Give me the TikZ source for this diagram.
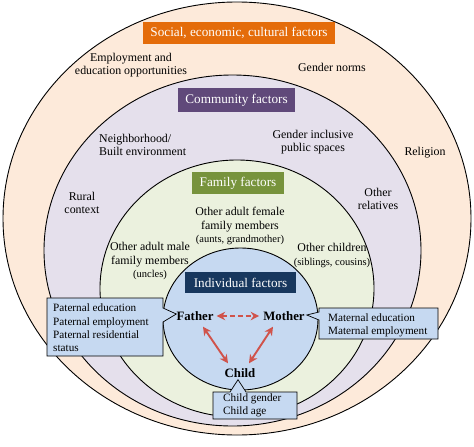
\documentclass[tikz,border=0pt]{standalone}
\usepackage{fontspec}
\setmainfont{Liberation Serif}
\usetikzlibrary{arrows.meta,calc}
\definecolor{peach}{HTML}{FDEADA}
\definecolor{lav}{HTML}{E5E0EC}
\definecolor{lgreen}{HTML}{EBF1DE}
\definecolor{lblue}{HTML}{C6D9F1}
\definecolor{orangebox}{HTML}{E46C0A}
\definecolor{purplebox}{HTML}{60497A}
\definecolor{greenbox}{HTML}{77933C}
\definecolor{navybox}{HTML}{17375E}
\definecolor{arrred}{HTML}{D0534B}
\begin{document}
\begin{tikzpicture}[x=1pt,y=-1pt,
  ring/.style={draw=black,line width=0.9pt},
  titlebox/.style={text=white,inner sep=0pt,font=\fontsize{13.2}{15}\selectfont},
  lbl/.style={align=center,inner sep=0pt,font=\fontsize{11.9}{13.5}\selectfont},
  person/.style={inner sep=1pt,font=\fontsize{12.8}{14}\selectfont\bfseries},
  callout/.style={draw=black,line width=0.7pt,fill=lblue},
  ctext/.style={align=left,anchor=west,inner sep=0pt,font=\fontsize{11.2}{13.3}\selectfont},
  rel/.style={draw=arrred,line width=1.9pt,{Stealth[length=8.5pt,width=8.5pt]}-{Stealth[length=8.5pt,width=8.5pt]}}
]
\useasboundingbox (0,0) rectangle (474,447);
\fill[white] (0,0) rectangle (474,447);
% rings
\filldraw[ring,fill=peach] (237,218.5) ellipse [x radius=234pt, y radius=216.5pt];
\filldraw[ring,fill=lav] (232.5,250.5) ellipse [x radius=188.5pt, y radius=175.5pt];
\filldraw[ring,fill=lgreen] (237,288.5) ellipse [x radius=137pt, y radius=128.5pt];
\filldraw[ring,fill=lblue] (240.5,319) ellipse [x radius=77.5pt, y radius=71pt];
% title boxes
\node[titlebox,fill=orangebox,minimum width=192pt,minimum height=22pt] (social) at (239,33) {Social, economic, cultural factors};
\node[titlebox,fill=purplebox,minimum width=117pt,minimum height=24pt] (community) at (236.5,100) {Community factors};
\node[titlebox,fill=greenbox,minimum width=92pt,minimum height=22pt] (family) at (238,183) {Family factors};
\node[titlebox,fill=navybox,minimum width=111pt,minimum height=21pt] (individual) at (240.5,282.5) {Individual factors};
% societal labels
\node[lbl] (employ) at (131,65) {Employment and\\education opportunities};
\node[lbl] (gnorms) at (332,67.5) {Gender norms};
\node[lbl] (religion) at (425,152.5) {Religion};
% community labels
\node[lbl,align=left,anchor=west] (neigh) at (99,145) {Neighborhood/\\Built environment};
\node[lbl] (ginc) at (313,142) {Gender inclusive\\public spaces};
\node[lbl] (rural) at (82,203) {Rural\\context};
\node[lbl] (relatives) at (378,199) {Other\\relatives};
% family labels
\node[lbl] (female) at (240,226) {Other adult female\\family members\\{\fontsize{10.5}{12}\selectfont (aunts, grandmother)}};
\node[lbl] (male) at (150,261) {Other adult male\\family members\\{\fontsize{10.5}{12}\selectfont (uncles)}};
\node[lbl] (children) at (332,255.5) {Other children\\{\fontsize{10.5}{12}\selectfont (siblings, cousins)}};
% individuals
\node[person] (Father) at (195,316) {Father};
\node[person] (Mother) at (284,316) {Mother};
\node[person] (Child) at (240,373) {Child};
\draw[rel,dashed,dash pattern=on 5pt off 3pt,shorten <=2pt,shorten >=3pt] (Father.east) -- (Mother.west);
\draw[rel] ($(Father.south)+(8,5)$) -- ($(Child.north)+(-12,-4)$);
\draw[rel] ($(Mother.south)+(-11,5)$) -- ($(Child.north)+(9,-4)$);
% callouts
\draw[callout] (47,298) -- (163,298) -- (163,308) -- ($(Father.west)+(1,-2)$) -- (163,322) -- (163,356) -- (47,356) -- cycle;
\node[ctext] (paternal) at (53,328) {Paternal education\\Paternal employment\\Paternal residential\\status};
\draw[callout] (319,308) -- (438,308) -- (438,339) -- (319,339) -- (319,320) -- ($(Mother.east)+(1,-1)$) -- (319,312) -- cycle;
\node[ctext] (maternal) at (328,325) {Maternal education\\Maternal employment};
\draw[callout] (213,392) -- (230,392) -- ($(Child.south)+(-2,1)$) -- (246,392) -- (297,392) -- (297,419) -- (213,419) -- cycle;
\node[ctext] (childf) at (223,405) {Child gender\\Child age};
\end{tikzpicture}
\end{document}
